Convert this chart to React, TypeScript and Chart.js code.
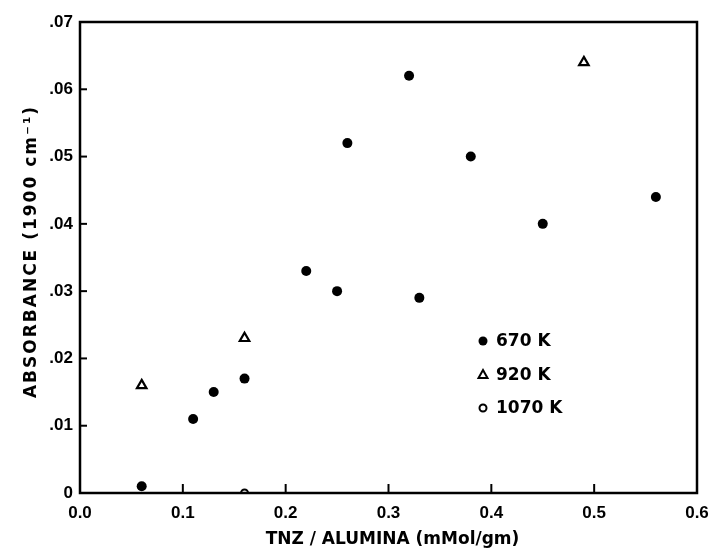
import React, { useEffect, useRef } from "react";
import { Chart, registerables } from "chart.js";

Chart.register(...registerables);

// TNZ/ALUMINA (mMol/gm) vs ABSORBANCE (1900 cm-1)
const x670 = [0.06, 0.11, 0.13, 0.16, 0.22, 0.25, 0.26, 0.32, 0.33, 0.38, 0.45, 0.56];
const y670 = [0.001, 0.011, 0.015, 0.017, 0.033, 0.030, 0.052, 0.062, 0.029, 0.050, 0.040, 0.044];
const x920 = [0.06, 0.16, 0.49];
const y920 = [0.016, 0.023, 0.064];
const x1070 = [0.16];
const y1070 = [0.0];

const seriesLabels = ["670 K", "920 K", "1070 K"];
const xTicks = [0, 0.1, 0.2, 0.3, 0.4, 0.5, 0.6];
const yTicks = [0, 0.01, 0.02, 0.03, 0.04, 0.05, 0.06, 0.07];
const xTitle = "TNZ / ALUMINA (mMol/gm)";
const yTitle = "ABSORBANCE (1900 cm\u207B\u00B9)";

const TICKFONT = "'Liberation Sans', Arial, sans-serif";
const LABFONT = "'DejaVu Sans', sans-serif";
const INK = "#000";

const framePlugin = {
  id: "frame",
  afterDraw(chart: any) {
    const { ctx, chartArea: a, scales } = chart;
    ctx.save();
    ctx.strokeStyle = INK;
    ctx.lineWidth = 2.5;
    ctx.strokeRect(a.left, a.top, a.right - a.left, a.bottom - a.top);
    ctx.lineWidth = 2;
    // inward ticks on left axis
    yTicks.forEach((v) => {
      if (v === 0 || v === 0.07) return;
      const y = scales.y.getPixelForValue(v);
      ctx.beginPath();
      ctx.moveTo(a.left, y);
      ctx.lineTo(a.left + 7, y);
      ctx.stroke();
    });
    // inward ticks on bottom axis
    xTicks.forEach((v) => {
      if (v === 0 || v === 0.6) return;
      const x = scales.x.getPixelForValue(v);
      ctx.beginPath();
      ctx.moveTo(x, a.bottom);
      ctx.lineTo(x, a.bottom - 9);
      ctx.stroke();
    });

    // axis titles
    ctx.fillStyle = INK;
    ctx.textAlign = "center";
    ctx.textBaseline = "middle";
    ctx.font = `bold 17px ${LABFONT}`;
    (ctx as any).letterSpacing = "0px";
    ctx.fillText(xTitle, (a.left + a.right) / 2 + 4, 540);
    ctx.save();
    ctx.translate(32, (a.top + a.bottom) / 2 - 6);
    ctx.rotate(-Math.PI / 2);
    (ctx as any).letterSpacing = "2px";
    ctx.fillText(yTitle, 0, 0);
    ctx.restore();
    (ctx as any).letterSpacing = "0px";

    // legend inside plot
    const lx = a.left + 403;
    const ly0 = a.top + 319;
    const dy = 33.5;
    const styles = ["circle", "triangle", "ring"];
    ctx.font = `bold 17px ${LABFONT}`;
    ctx.textBaseline = "middle";
    ctx.textAlign = "left";
    seriesLabels.forEach((lab, i) => {
      const y = ly0 + i * dy;
      ctx.fillStyle = INK;
      ctx.strokeStyle = INK;
      if (styles[i] === "circle") {
        ctx.beginPath();
        ctx.arc(lx, y, 4.5, 0, Math.PI * 2);
        ctx.fill();
      } else if (styles[i] === "triangle") {
        ctx.lineWidth = 2;
        ctx.beginPath();
        ctx.moveTo(lx, y - 4.5);
        ctx.lineTo(lx + 4.5, y + 3.5);
        ctx.lineTo(lx - 4.5, y + 3.5);
        ctx.closePath();
        ctx.stroke();
      } else {
        ctx.lineWidth = 2;
        ctx.beginPath();
        ctx.arc(lx, y, 3.5, 0, Math.PI * 2);
        ctx.stroke();
      }
      ctx.fillText(lab, lx + 13, y + 1);
    });
    ctx.restore();
  },
};

export default function App() {
  const ref = useRef<HTMLCanvasElement | null>(null);
  useEffect(() => {
    if (!ref.current) return;
    const toPts = (xs: number[], ys: number[]) => xs.map((x, i) => ({ x, y: ys[i] }));
    const chart = new Chart(ref.current, {
      type: "scatter",
      data: {
        datasets: [
          {
            label: seriesLabels[0],
            data: toPts(x670, y670),
            pointStyle: "circle",
            pointRadius: 5,
            backgroundColor: INK,
            borderColor: INK,
            borderWidth: 0,
          },
          {
            label: seriesLabels[1],
            data: toPts(x920, y920),
            pointStyle: "triangle",
            pointRadius: 5.5,
            backgroundColor: "#fff",
            borderColor: INK,
            borderWidth: 2.2,
          },
          {
            label: seriesLabels[2],
            data: toPts(x1070, y1070),
            pointStyle: "circle",
            pointRadius: 3.5,
            backgroundColor: "#fff",
            borderColor: INK,
            borderWidth: 2,
          },
        ],
      },
      options: {
        animation: false,
        responsive: true,
        maintainAspectRatio: false,
        layout: { padding: { top: 22, right: 14, left: 0, bottom: 0 } },
        plugins: { legend: { display: false }, tooltip: { enabled: false } },
        scales: {
          x: {
            type: "linear",
            min: 0,
            max: 0.6,
            afterFit: (s: any) => {
              s.height = 56;
              s.paddingLeft = 0;
              s.paddingRight = 0;
            },
            afterBuildTicks: (s: any) => {
              s.ticks = xTicks.map((v) => ({ value: v }));
            },
            ticks: {
              padding: 10,
              color: INK,
              font: { family: TICKFONT, size: 17, weight: "bold" },
              callback: (v: any) => Number(v).toFixed(1),
              maxRotation: 0,
            },
            grid: { display: false, drawTicks: false },
            border: { display: false },
            title: { display: false },
          },
          y: {
            type: "linear",
            min: 0,
            max: 0.07,
            afterFit: (s: any) => {
              s.width = 80;
              s.paddingTop = 0;
              s.paddingBottom = 0;
            },
            afterBuildTicks: (s: any) => {
              s.ticks = yTicks.map((v) => ({ value: v }));
            },
            ticks: {
              padding: 7,
              color: INK,
              font: { family: TICKFONT, size: 17, weight: "bold" },
              callback: (v: any) => {
                const n = Number(v);
                return n === 0 ? "0" : n.toFixed(2).replace(/^0/, "");
              },
            },
            grid: { display: false, drawTicks: false },
            border: { display: false },
            title: { display: false },
          },
        },
      },
      plugins: [framePlugin],
    });
    return () => chart.destroy();
  }, []);
  return (
    <div style={{ position: "fixed", left: 0, top: 0, width: 711, height: 549, background: "#fff" }}>
      <canvas ref={ref} />
    </div>
  );
}
